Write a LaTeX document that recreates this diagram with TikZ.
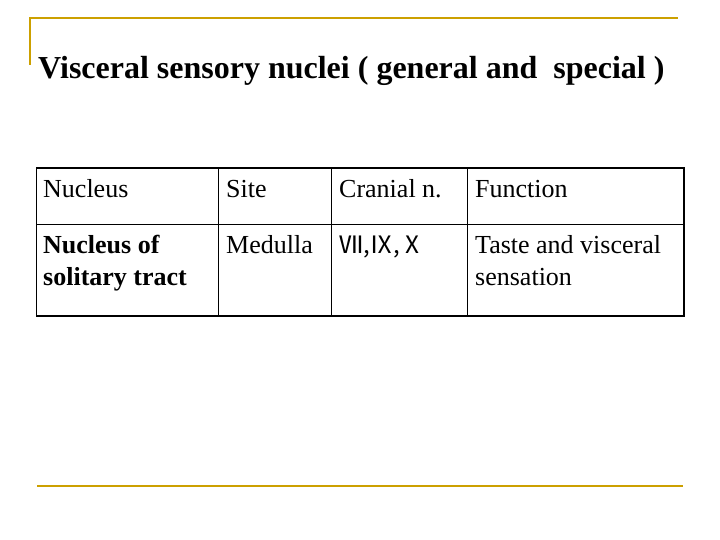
\documentclass[tikz,border=0pt]{standalone}
\usepackage{fontspec}
\setmainfont{Liberation Serif}
\newfontfamily\cjk{Noto Sans CJK SC}
\definecolor{gold}{RGB}{204,160,0}
\begin{document}
\begin{tikzpicture}[x=1pt,y=-1pt,
  cell/.style={anchor=base west,inner sep=0pt,align=left,font=\fontsize{26}{32}\selectfont},
  gline/.style={draw=gold,line width=2.5pt}]
\useasboundingbox (0,0) rectangle (720,540);
\coordinate (g1) at (30,65); \coordinate (g2) at (30,18); \coordinate (g3) at (678,18);
\draw[gline] (g1) -- (g2) -- (g3);
\coordinate (b1) at (37,486); \coordinate (b2) at (683,486);
\draw[gline] (b1) -- (b2);
\node[anchor=base west,inner sep=0pt,font=\bfseries\fontsize{32}{36}\selectfont] (title) at (38,79) {Visceral sensory nuclei ( general and\ \ special )};
% table
\draw[line width=0.8pt] (36,224) -- (684,224);
\foreach \x in {218,331,467} \draw[line width=0.8pt] (\x,168) -- (\x,316);
\draw[line width=0.8pt] (36,168) -- (36,316);
\draw[line width=2pt] (36,168) -- (684,168) -- (684,316) -- (36,316);
\node[cell] (h1) at (43,197) {Nucleus};
\node[cell] (h2) at (226,197) {Site};
\node[cell] (h3) at (339,197) {Cranial n.};
\node[cell] (h4) at (475,197) {Function};
\node[cell,font=\bfseries\fontsize{26}{32}\selectfont] (c1) at (43,285) {Nucleus of\\solitary tract};
\node[cell] (c2) at (226,253) {Medulla};
\node[cell] (c3) at (339,253) {{\cjk\fontsize{24}{32}\selectfont Ⅶ,Ⅸ,Ⅹ}};
\node[cell] (c4) at (475,285) {Taste and visceral\\sensation};
\end{tikzpicture}
\end{document}
